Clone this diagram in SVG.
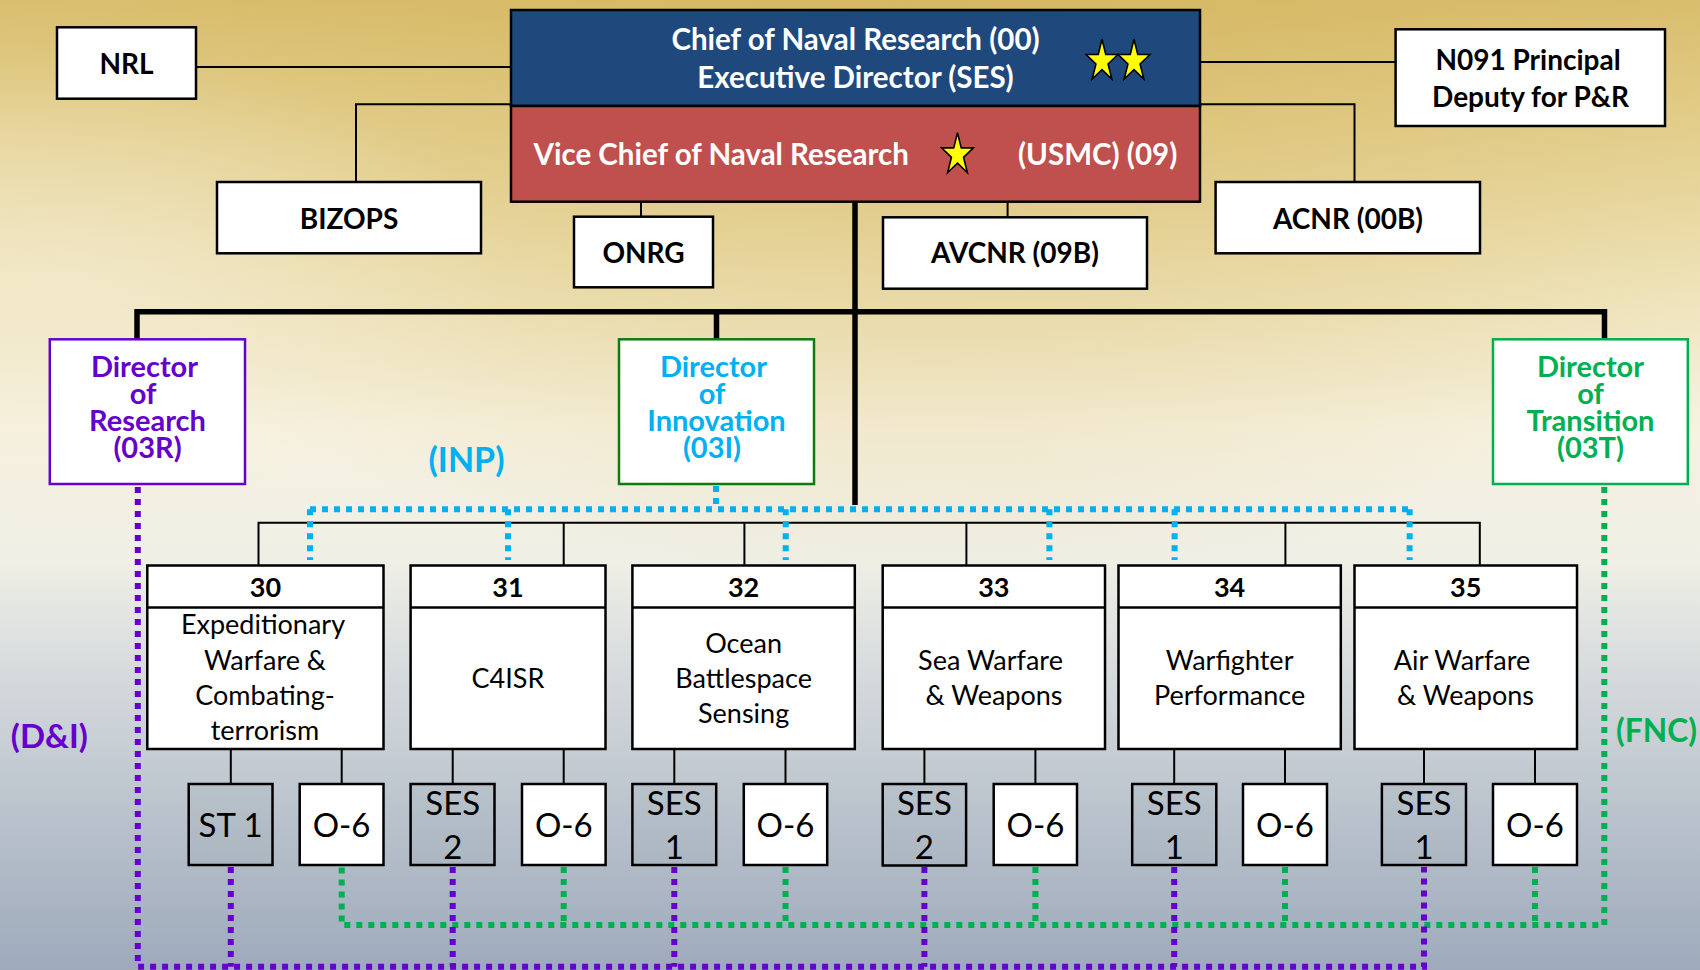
<svg xmlns="http://www.w3.org/2000/svg" width="1700" height="970" viewBox="0 0 1700 970">
<defs>
  <linearGradient id="bg" x1="0" y1="0" x2="0" y2="1">
    <stop offset="0" stop-color="#dabf70"/>
    <stop offset="0.12" stop-color="#e4d08f"/>
    <stop offset="0.28" stop-color="#efe4ba"/>
    <stop offset="0.44" stop-color="#f7f2e1"/>
    <stop offset="0.58" stop-color="#efefe6"/>
    <stop offset="0.70" stop-color="#d4d9dc"/>
    <stop offset="0.85" stop-color="#b8c1cb"/>
    <stop offset="1" stop-color="#9eaabc"/>
  </linearGradient>
  <radialGradient id="gold" cx="0.55" cy="0" r="0.6">
    <stop offset="0" stop-color="#d2b25a" stop-opacity="0.55"/>
    <stop offset="1" stop-color="#d2b25a" stop-opacity="0"/>
  </radialGradient>
  <radialGradient id="lite" cx="0.05" cy="0.3" r="0.25">
    <stop offset="0" stop-color="#f3ead0" stop-opacity="0.6"/>
    <stop offset="1" stop-color="#f3ead0" stop-opacity="0"/>
  </radialGradient>
  <polygon id="star" points="0,-22 3.75,-6.8 15.9,-6.8 6.06,2.6 9.82,17.8 0,8.4 -9.82,17.8 -6.06,2.6 -15.9,-6.8 -3.75,-6.8" fill="#ffff00" stroke="#000" stroke-width="1.6" stroke-linejoin="miter"/>
  <style>
    .box{fill:#fff;stroke:#000;stroke-width:2.5}
    .gbox{fill:#8c99a8;fill-opacity:0.12;stroke:#000;stroke-width:2.5}
    .t{font-family:Lato,"Liberation Sans",sans-serif;text-anchor:middle;fill:#000}
    .b{font-weight:bold}
    .top{font-size:28px}
    .wt{fill:#fff;font-weight:bold;font-size:29.5px;font-family:Lato,"Liberation Sans",sans-serif}
    .dir{font-size:29px;font-weight:bold}
    .hdr{font-size:27px;font-weight:bold}
    .body{font-size:27px}
    .kid{font-size:33px}
    .thin{fill:none;stroke:#000;stroke-width:2}
    .thick{fill:none;stroke:#000;stroke-width:5.5}
    .dot{fill:none;stroke-width:6;stroke-dasharray:6 6}
    .cy{stroke:#00b0f0}
    .pu{stroke:#6600cc}
    .gr{stroke:#00b050}
  </style>
</defs>

<rect x="0" y="0" width="1700" height="970" fill="url(#bg)"/>
<rect x="0" y="0" width="1700" height="970" fill="url(#gold)"/>
<rect x="0" y="0" width="1700" height="970" fill="url(#lite)"/>

<g id="connectors">
  <line class="thin" x1="196" y1="67" x2="511" y2="67"/>
  <polyline class="thin" points="511,104.3 356,104.3 356,182"/>
  <line class="thin" x1="1200" y1="62" x2="1396" y2="62"/>
  <polyline class="thin" points="1200,104.3 1354.5,104.3 1354.5,182"/>
  <line class="thin" x1="641" y1="202" x2="641" y2="217"/>
  <line class="thin" x1="1007.6" y1="202" x2="1007.6" y2="217"/>
  <line class="thick" x1="855" y1="202" x2="855" y2="505"/>
  <polyline class="thick" points="137,339.3 137,311.7 1604.5,311.7 1604.5,339.3"/>
  <line class="thick" x1="716.5" y1="311.7" x2="716.5" y2="339.3"/>
  <polyline class="thin" points="258.5,565.5 258.5,522.7 1479.8,522.7 1479.8,565.5"/>
  <line class="thin" x1="563.7" y1="522.7" x2="563.7" y2="565.5"/>
  <line class="thin" x1="744.4" y1="522.7" x2="744.4" y2="565.5"/>
  <line class="thin" x1="966.4" y1="522.7" x2="966.4" y2="565.5"/>
  <line class="thin" x1="1285.4" y1="522.7" x2="1285.4" y2="565.5"/>
  <line class="thin" x1="230.8" y1="749" x2="230.8" y2="784"/>
  <line class="thin" x1="341.7" y1="749" x2="341.7" y2="784"/>
  <line class="thin" x1="452.7" y1="749" x2="452.7" y2="784"/>
  <line class="thin" x1="563.7" y1="749" x2="563.7" y2="784"/>
  <line class="thin" x1="674.3" y1="749" x2="674.3" y2="784"/>
  <line class="thin" x1="785.5" y1="749" x2="785.5" y2="784"/>
  <line class="thin" x1="924.4" y1="749" x2="924.4" y2="784"/>
  <line class="thin" x1="1035.4" y1="749" x2="1035.4" y2="784"/>
  <line class="thin" x1="1174.2" y1="749" x2="1174.2" y2="784"/>
  <line class="thin" x1="1285" y1="749" x2="1285" y2="784"/>
  <line class="thin" x1="1424" y1="749" x2="1424" y2="784"/>
  <line class="thin" x1="1535" y1="749" x2="1535" y2="784"/>
  <!-- INP cyan dotted -->
  <line class="dot cy" x1="716" y1="486" x2="716" y2="509.3"/>
  <line class="dot cy" x1="310" y1="509.3" x2="1409.6" y2="509.3"/>
  <line class="dot cy" x1="310" y1="509.3" x2="310" y2="560"/>
  <line class="dot cy" x1="508" y1="509.3" x2="508" y2="560"/>
  <line class="dot cy" x1="785.7" y1="509.3" x2="785.7" y2="560"/>
  <line class="dot cy" x1="1049.4" y1="509.3" x2="1049.4" y2="560"/>
  <line class="dot cy" x1="1174.6" y1="509.3" x2="1174.6" y2="560"/>
  <line class="dot cy" x1="1409.6" y1="509.3" x2="1409.6" y2="560"/>
  <!-- FNC green dotted -->
  <polyline class="dot gr" points="1604.3,487 1604.3,925 341.7,925 341.7,867"/>
  <line class="dot gr" x1="563.7" y1="867" x2="563.7" y2="925"/>
  <line class="dot gr" x1="785.5" y1="867" x2="785.5" y2="925"/>
  <line class="dot gr" x1="1035.4" y1="867" x2="1035.4" y2="925"/>
  <line class="dot gr" x1="1285" y1="867" x2="1285" y2="925"/>
  <line class="dot gr" x1="1535" y1="867" x2="1535" y2="925"/>
  <!-- D&I purple dotted -->
  <polyline class="dot pu" points="137.8,487 137.8,966.7 1424,966.7 1424,867"/>
  <line class="dot pu" x1="230.8" y1="867" x2="230.8" y2="966.7"/>
  <line class="dot pu" x1="452.7" y1="867" x2="452.7" y2="966.7"/>
  <line class="dot pu" x1="674.3" y1="867" x2="674.3" y2="966.7"/>
  <line class="dot pu" x1="924.4" y1="867" x2="924.4" y2="966.7"/>
  <line class="dot pu" x1="1174.2" y1="867" x2="1174.2" y2="966.7"/>
</g>

<g id="cnr">
  <rect x="511" y="10" width="689" height="96" fill="#1f497d" stroke="#000" stroke-width="2.5"/>
  <text class="wt" x="855.5" y="50" text-anchor="middle">Chief of Naval Research (00)</text>
  <text class="wt" x="855.5" y="88.3" text-anchor="middle">Executive Director (SES)</text>
  <use href="#star" x="1102" y="61.3"/>
  <use href="#star" x="1134" y="61.3"/>
</g>
<g id="vcnr">
  <rect x="511" y="106" width="689" height="95.7" fill="#c0504d" stroke="#000" stroke-width="2.5"/>
  <text class="wt" x="533.5" y="165">Vice Chief of Naval Research</text>
  <use href="#star" x="957.5" y="154.7"/>
  <text class="wt" x="1018" y="165">(USMC) (09)</text>
</g>
<g id="nrl">
  <rect class="box" x="57" y="27.3" width="139" height="71.4"/>
  <text class="t b top" x="126.5" y="74">NRL</text>
</g>
<g id="bizops">
  <rect class="box" x="217" y="182" width="264" height="71.3"/>
  <text class="t b top" x="349" y="229.3">BIZOPS</text>
</g>
<g id="onrg">
  <rect class="box" x="574" y="216.7" width="139" height="70.6"/>
  <text class="t b top" x="643.5" y="263.3">ONRG</text>
</g>
<g id="avcnr">
  <rect class="box" x="883" y="217.3" width="264" height="71.4"/>
  <text class="t b top" x="1015" y="263.3">AVCNR (09B)</text>
</g>
<g id="acnr">
  <rect class="box" x="1215.6" y="182" width="264.4" height="71.3"/>
  <text class="t b top" x="1348" y="229.3">ACNR (00B)</text>
</g>
<g id="n091">
  <rect class="box" x="1395.6" y="29.3" width="269.4" height="96.7"/>
  <text class="t b top" x="1528" y="70">N091 Principal</text>
  <text class="t b top" x="1530.5" y="107">Deputy for P&amp;R</text>
</g>

<g id="dir-research">
  <rect x="49.8" y="339.3" width="195.2" height="144.7" fill="#fff" stroke="#6600cc" stroke-width="2.5"/>
  <text class="t dir" x="144.5" y="377.3" style="fill:#6600cc">Director</text>
  <text class="t dir" x="143" y="404" style="fill:#6600cc">of</text>
  <text class="t dir" x="147.5" y="431.3" style="fill:#6600cc">Research</text>
  <text class="t dir" x="147.5" y="458.3" style="fill:#6600cc">(03R)</text>
</g>
<g id="dir-innovation">
  <rect x="619" y="339.3" width="195" height="144.7" fill="#fff" stroke="#107a10" stroke-width="2.5"/>
  <text class="t dir" x="713.5" y="377.3" style="fill:#00b0f0">Director</text>
  <text class="t dir" x="712" y="404" style="fill:#00b0f0">of</text>
  <text class="t dir" x="716.5" y="431.3" style="fill:#00b0f0">Innovation</text>
  <text class="t dir" x="712" y="458.3" style="fill:#00b0f0">(03I)</text>
</g>
<g id="dir-transition">
  <rect x="1493" y="339.3" width="194.8" height="144.7" fill="#fff" stroke="#00b050" stroke-width="2.5"/>
  <text class="t dir" x="1590.5" y="377.3" style="fill:#00b050">Director</text>
  <text class="t dir" x="1590.5" y="404" style="fill:#00b050">of</text>
  <text class="t dir" x="1590.5" y="431.3" style="fill:#00b050">Transition</text>
  <text class="t dir" x="1590.5" y="458.3" style="fill:#00b050">(03T)</text>
</g>

<g id="label-inp"><text class="t b" x="466.5" y="471.7" style="font-size:34px;fill:#00b0f0">(INP)</text></g>
<g id="label-di"><text class="t b" x="49.3" y="748.3" style="font-size:33px;fill:#6600cc">(D&amp;I)</text></g>
<g id="label-fnc"><text class="t b" x="1656.5" y="741.7" textLength="81" lengthAdjust="spacingAndGlyphs" style="font-size:33px;fill:#00b050">(FNC)</text></g>

<g id="code30">
  <rect class="box" x="147.3" y="565.5" width="236.2" height="183.5"/>
  <line class="thin" x1="147.3" y1="607.5" x2="383.5" y2="607.5" style="stroke-width:2.5"/>
  <text class="t hdr" x="265.4" y="597.3">30</text>
  <text class="t body" x="263" y="634">Expeditionary</text>
  <text class="t body" x="265" y="670">Warfare &amp;</text>
  <text class="t body" x="265" y="705.3">Combating-</text>
  <text class="t body" x="265" y="740">terrorism</text>
</g>
<g id="code31">
  <rect class="box" x="410.6" y="565.5" width="194.9" height="183.5"/>
  <line class="thin" x1="410.6" y1="607.5" x2="605.5" y2="607.5" style="stroke-width:2.5"/>
  <text class="t hdr" x="508" y="597.3">31</text>
  <text class="t body" x="508" y="688.3">C4ISR</text>
</g>
<g id="code32">
  <rect class="box" x="632.4" y="565.5" width="222.4" height="183.5"/>
  <line class="thin" x1="632.4" y1="607.5" x2="854.8" y2="607.5" style="stroke-width:2.5"/>
  <text class="t hdr" x="743.6" y="597.3">32</text>
  <text class="t body" x="743.6" y="652.7">Ocean</text>
  <text class="t body" x="743.6" y="688.3">Battlespace</text>
  <text class="t body" x="743.6" y="723.3">Sensing</text>
</g>
<g id="code33">
  <rect class="box" x="882.7" y="565.5" width="222.3" height="183.5"/>
  <line class="thin" x1="882.7" y1="607.5" x2="1105" y2="607.5" style="stroke-width:2.5"/>
  <text class="t hdr" x="993.8" y="597.3">33</text>
  <text class="t body" x="990.5" y="670">Sea Warfare</text>
  <text class="t body" x="994" y="705.3">&amp; Weapons</text>
</g>
<g id="code34">
  <rect class="box" x="1118.5" y="565.5" width="222.3" height="183.5"/>
  <line class="thin" x1="1118.5" y1="607.5" x2="1340.8" y2="607.5" style="stroke-width:2.5"/>
  <text class="t hdr" x="1229.6" y="597.3">34</text>
  <text class="t body" x="1229.6" y="670">Warfighter</text>
  <text class="t body" x="1229.6" y="705.3">Performance</text>
</g>
<g id="code35">
  <rect class="box" x="1354.5" y="565.5" width="222.5" height="183.5"/>
  <line class="thin" x1="1354.5" y1="607.5" x2="1577" y2="607.5" style="stroke-width:2.5"/>
  <text class="t hdr" x="1465.7" y="597.3">35</text>
  <text class="t body" x="1462" y="670">Air Warfare</text>
  <text class="t body" x="1465.5" y="705.3">&amp; Weapons</text>
</g>

<g id="c30-st"><rect class="gbox" x="188.7" y="784" width="83.8" height="81"/><text class="t kid" x="230.6" y="836.7">ST 1</text></g>
<g id="c30-o6"><rect class="box" x="299.7" y="784" width="83.8" height="81"/><text class="t kid" x="341.6" y="836.7">O-6</text></g>
<g id="c31-ses"><rect class="gbox" x="410.6" y="784" width="83.9" height="81"/><text class="t kid" x="452.7" y="815">SES</text><text class="t kid" x="452.7" y="859.3">2</text></g>
<g id="c31-o6"><rect class="box" x="522" y="784" width="83.6" height="81"/><text class="t kid" x="563.8" y="836.7">O-6</text></g>
<g id="c32-ses"><rect class="gbox" x="632.4" y="784" width="83.8" height="81"/><text class="t kid" x="674.3" y="815">SES</text><text class="t kid" x="674.3" y="859.3">1</text></g>
<g id="c32-o6"><rect class="box" x="743.8" y="784" width="83.4" height="81"/><text class="t kid" x="785.5" y="836.7">O-6</text></g>
<g id="c33-ses"><rect class="gbox" x="882.7" y="784" width="83.4" height="81.5"/><text class="t kid" x="924.4" y="815">SES</text><text class="t kid" x="924.4" y="859.3">2</text></g>
<g id="c33-o6"><rect class="box" x="993.7" y="784" width="83.3" height="81"/><text class="t kid" x="1035.4" y="836.7">O-6</text></g>
<g id="c34-ses"><rect class="gbox" x="1132.2" y="784" width="84.1" height="81"/><text class="t kid" x="1174.2" y="815">SES</text><text class="t kid" x="1174.2" y="859.3">1</text></g>
<g id="c34-o6"><rect class="box" x="1243" y="784" width="84" height="81"/><text class="t kid" x="1285" y="836.7">O-6</text></g>
<g id="c35-ses"><rect class="gbox" x="1381.9" y="784" width="84.1" height="81"/><text class="t kid" x="1424" y="815">SES</text><text class="t kid" x="1424" y="859.3">1</text></g>
<g id="c35-o6"><rect class="box" x="1493" y="784" width="84" height="81"/><text class="t kid" x="1535" y="836.7">O-6</text></g>
</svg>
